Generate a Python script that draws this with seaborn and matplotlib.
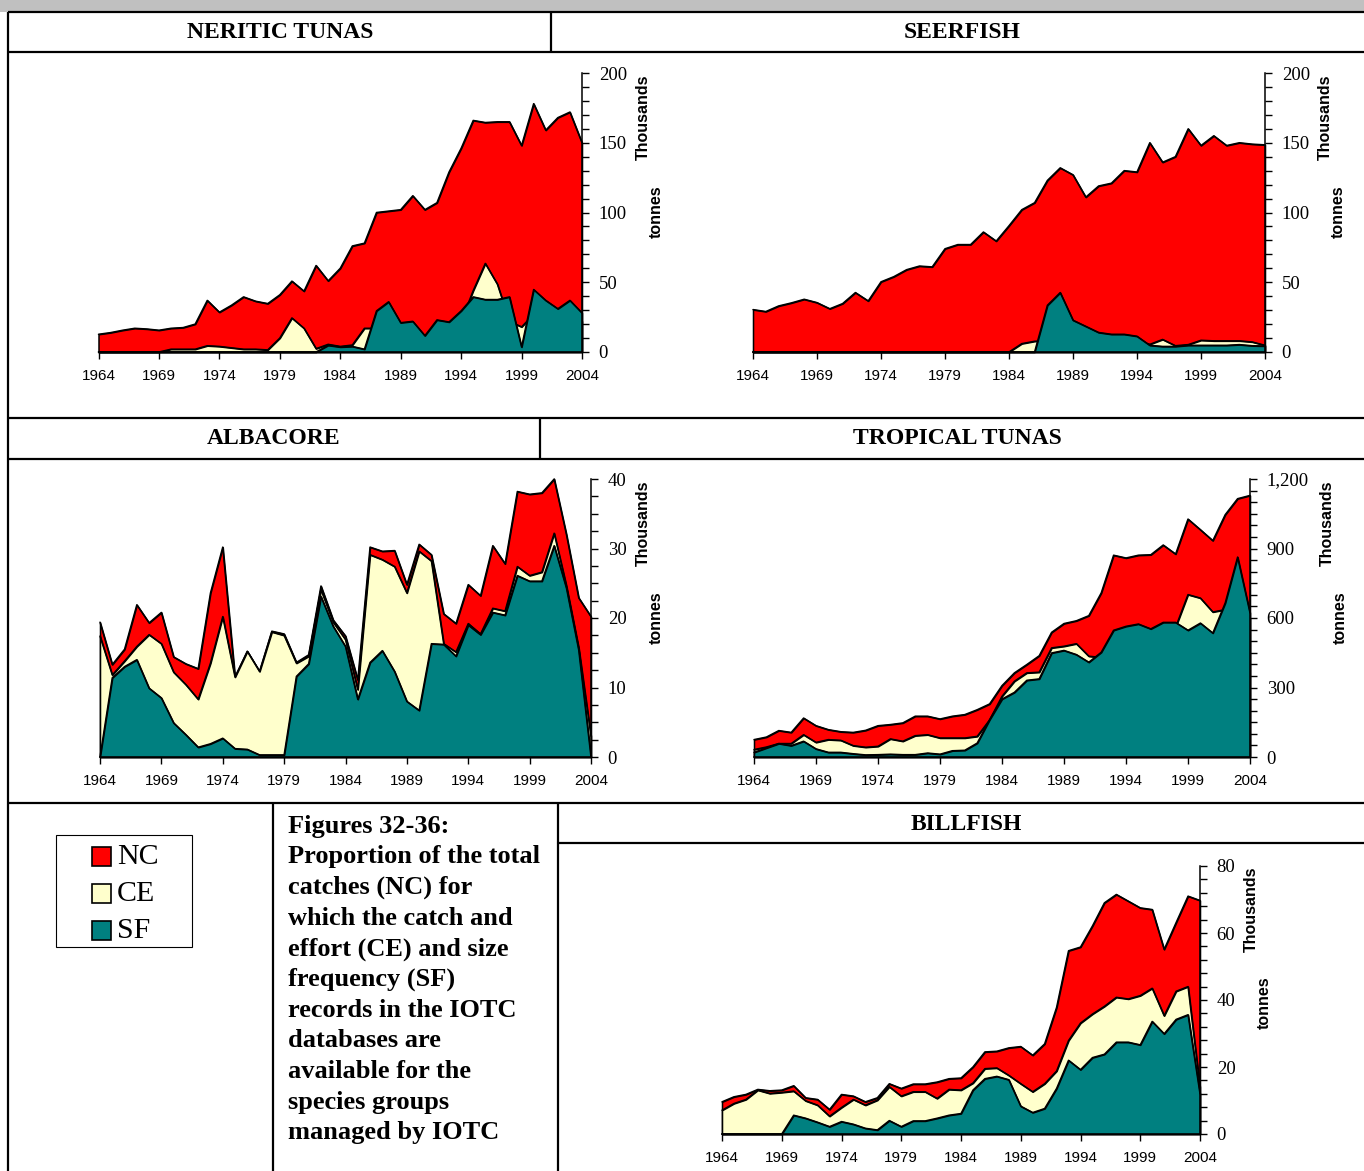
import pandas as pd
import seaborn as sns
import matplotlib.pyplot as plt
from matplotlib.patches import Rectangle

years = list(range(1964, 2005))

# catches, thousand tonnes (NC = total, CE = catch & effort, SF = size frequency)
neritic_nc = [12.7, 13.9, 15.6, 17, 16.5, 15.6, 17, 17.5, 20, 37,
              28.5, 33.5, 39.5, 36.4, 34.7, 41, 50.8, 43.6, 62, 51,
              60, 76, 78, 100, 101, 102, 112, 102, 107, 129,
              146, 166, 164.5, 165, 165, 148, 178, 159, 168, 172, 150]
neritic_ce = [0, 0, 0, 0, 0, 0, 2, 2, 2, 4.5,
              4, 3, 2, 2, 1.5, 10, 24.4, 17, 2.4, 5.5,
              4, 5, 17, 17, 18, 15, 15, 10, 15, 15,
              22, 44, 63.5, 48.6, 22, 18, 27, 25, 25, 25, 22]
neritic_sf = [0, 0, 0, 0, 0, 0, 0, 0, 0, 0,
              0, 0, 0, 0, 0, 0, 0, 0, 0, 4.8,
              3.6, 4, 2, 29.5, 36, 21, 22, 11.7, 23, 21.5,
              29.5, 39.5, 37.6, 37.6, 39.5, 3.6, 44.8, 37, 31, 37, 28]

seerfish_nc = [30.4, 29, 33, 35.2, 37.8, 35.4, 31, 34.7, 42.6, 36.6,
               50.3, 54, 59, 61.6, 61, 74, 77, 77, 86, 79.5,
               90.5, 102, 107, 123, 132, 127, 111, 119, 121, 130,
               129, 150, 136, 140, 160, 148, 155, 148, 150, 149, 148.5]
seerfish_ce = [0, 0, 0, 0, 0, 0, 0, 0, 0, 0,
               0, 0, 0, 0, 0, 0, 0, 0, 0, 0,
               0, 6, 7.7, 8, 8, 8, 8, 8, 8, 8,
               8, 5.5, 9, 4.5, 5.3, 8.4, 8, 8, 8, 7.2, 4.8]
seerfish_sf = [0, 0, 0, 0, 0, 0, 0, 0, 0, 0,
               0, 0, 0, 0, 0, 0, 0, 0, 0, 0,
               0, 0, 0, 33.5, 42.6, 22.8, 18.4, 14, 12.7, 12.7,
               11.3, 4.8, 4, 4, 4.8, 4.8, 4.8, 4.8, 5.3, 4.5, 4.3]

albacore_nc = [19.4, 13.3, 15.5, 21.9, 19.3, 20.8, 14.4, 13.4, 12.7, 23.6,
               30.2, 11.5, 15.2, 12.3, 18.1, 17.7, 13.6, 14.7, 24.6, 19.7,
               17.4, 11.1, 30.2, 29.6, 29.7, 24.8, 30.6, 29.1, 20.6, 19.2,
               24.8, 23.2, 30.4, 27.8, 38.2, 37.8, 38, 40, 32, 22.9, 20.2]
albacore_ce = [17.4, 11.8, 13.8, 15.9, 17.6, 16.3, 12.2, 10.4, 8.3, 13.5,
               20.2, 11.5, 15.2, 12.3, 18.0, 17.5, 13.5, 14.5, 24.1, 19.4,
               16.9, 9.7, 29.1, 28.4, 27.4, 23.6, 29.6, 28.2, 16.3, 15.1,
               19.2, 17.7, 21.4, 21.0, 27.4, 26.1, 26.6, 32.2, 24.6, 15.7, 3]
albacore_sf = [0, 11.4, 13.0, 14.0, 9.9, 8.5, 4.9, 3.2, 1.4, 1.9,
               2.7, 1.2, 1.1, 0.3, 0.3, 0.3, 11.6, 13.4, 23.1, 18.8,
               15.9, 8.3, 13.6, 15.3, 12.3, 8.0, 6.7, 16.3, 16.2, 14.5,
               19.0, 17.6, 20.8, 20.4, 26.1, 25.3, 25.3, 30.4, 24.3, 15.4, 0]

tropical_nc = [75, 86, 114, 106, 168, 135, 118, 109, 106, 115,
               135, 140, 147, 176, 176, 164, 176, 183, 204, 229,
               308, 363, 399, 437, 538, 576, 588, 610, 708, 871,
               859, 871, 873, 915, 876, 1027, 981, 934, 1046, 1115, 1129]
tropical_ce = [32, 43, 58, 58, 96, 63, 75, 72, 49, 42,
               46, 78, 68, 92, 96, 82, 82, 82, 89, 160,
               262, 327, 363, 366, 471, 478, 489, 435, 430, 530,
               545, 555, 535, 560, 560, 701, 686, 626, 636, 650, 600]
tropical_sf = [20, 39, 58, 49, 68, 35, 20, 20, 14, 9,
               10, 12, 10, 10, 17, 12, 27, 29, 60, 161,
               250, 279, 331, 337, 449, 460, 442, 409, 452, 547,
               564, 574, 553, 581, 581, 547, 578, 535, 665, 863, 622]

billfish_nc = [9.6, 11.1, 11.8, 13.3, 12.9, 13.1, 14.4, 10.8, 10.3, 7.3,
               11.8, 11.3, 9.6, 10.8, 15.0, 13.6, 14.9, 14.9, 15.5, 16.5,
               16.7, 20.0, 24.5, 24.7, 25.7, 26.1, 23.5, 26.9, 37.8, 54.7,
               55.8, 62.1, 69.0, 71.5, 69.5, 67.5, 67.0, 55.1, 63.1, 71.0, 69.7]
billfish_ce = [7.1, 9.1, 10.3, 13.1, 12.1, 12.4, 12.8, 9.9, 8.6, 5.3,
               7.9, 10.3, 8.6, 10.1, 14.1, 11.3, 12.6, 12.6, 10.6, 13.3,
               13.1, 15.2, 19.5, 19.7, 17.5, 15.0, 12.6, 15.0, 18.8, 27.9,
               33.1, 35.8, 38.1, 40.8, 40.3, 41.3, 43.5, 35.3, 42.6, 44.0, 14]
billfish_sf = [0, 0, 0, 0, 0, 0, 5.6, 4.7, 3.5, 2.2,
               3.7, 2.9, 1.7, 1.2, 4.0, 2.2, 3.9, 3.9, 4.7, 5.6,
               6.1, 13.1, 16.5, 17.2, 16.2, 8.3, 6.4, 7.6, 13.6, 22.0,
               19.2, 22.8, 23.8, 27.4, 27.4, 26.6, 33.6, 29.9, 34.2, 35.6, 12]

series = ['NC', 'CE', 'SF']
colors = {'NC': '#FF0000', 'CE': '#FFFFCC', 'SF': '#008080'}

caption = ["Figures 32-36:", "Proportion of the total", "catches (NC) for",
           "which the catch and", "effort (CE) and size", "frequency (SF)",
           "records in the IOTC", "databases are", "available for the",
           "species groups", "managed by IOTC"]

W, H = 1364, 1171
sns.set_theme(style='white')
plt.rcParams['font.family'] = ['Liberation Sans', 'DejaVu Sans']
plt.rcParams['text.color'] = 'black'

fig = plt.figure(figsize=(W / 100, H / 100), dpi=100)

# page-frame layer in pixel coordinates
bg = fig.add_axes([0, 0, 1, 1])
bg.set_xlim(0, W)
bg.set_ylim(H, 0)
bg.axis('off')


def panel(x0, x1, ybot, ytop, nc, ce, sf, ymax, major, minor, txt_x, comma=False):
    ax = fig.add_axes([x0 / W, 1 - ybot / H, (x1 - x0) / W, (ybot - ytop) / H])
    df = pd.DataFrame({'year': years, 'NC': nc, 'CE': ce, 'SF': sf})
    for i, s in enumerate(series):
        ax.fill_between(df['year'], df[s], 0, facecolor=colors[s], edgecolor='black',
                        linewidth=1.1, zorder=2 + 2 * i, clip_on=False)
        sns.lineplot(data=df, x='year', y=s, ax=ax, color='black', linewidth=1.1,
                     zorder=3 + 2 * i, clip_on=False)
    ax.set_xlim(1964, 2004)
    ax.set_ylim(0, ymax)
    ax.set_xlabel('')
    ax.set_ylabel('')
    ax.patch.set_alpha(0)
    for s in ['left', 'top']:
        ax.spines[s].set_visible(False)
    for s in ['right', 'bottom']:
        ax.spines[s].set_color('black')
        ax.spines[s].set_linewidth(1.1)
        ax.spines[s].set_zorder(10)
    ax.yaxis.tick_right()
    xt = list(range(1964, 2005, 5))
    ax.set_xticks(xt)
    ax.set_xticklabels([str(v) for v in xt], fontsize=11, family='Liberation Sans')
    yt = [major * k for k in range(int(ymax / major) + 1)]
    ax.set_yticks(yt)
    ax.set_yticklabels([f"{v:,}" if comma else f"{v:g}" for v in yt],
                       fontsize=13.5, family='Liberation Serif')
    ax.set_yticks([minor * k for k in range(int(ymax / minor) + 1)], minor=True)
    ax.tick_params(axis='x', which='major', direction='out', length=5, width=1,
                   color='black', labelcolor='black', pad=7.5, bottom=True)
    ax.tick_params(axis='y', which='both', direction='out', length=5, width=1,
                   color='black', labelcolor='black', pad=7, right=True, left=False)
    ax.grid(False)
    ty = ytop + (ybot - ytop) * 0.16
    bg.text(txt_x, ty, 'Thousands', rotation=90, ha='center', va='center',
            fontsize=11.5, fontweight='bold')
    bg.text(txt_x + 13, ty + 94, 'tonnes', rotation=90, ha='center', va='center',
            fontsize=11.5, fontweight='bold')
    return ax


panel(98.5, 582, 352, 73, neritic_nc, neritic_ce, neritic_sf, 200, 50, 10, 643)
panel(753, 1265, 352, 73, seerfish_nc, seerfish_ce, seerfish_sf, 200, 50, 10, 1325)
panel(100, 591, 757, 479, albacore_nc, albacore_ce, albacore_sf, 40, 10, 2.5, 643)
panel(754, 1250, 757, 479, tropical_nc, tropical_ce, tropical_sf, 1200, 300, 50, 1327, comma=True)
panel(722, 1200, 1134, 866, billfish_nc, billfish_ce, billfish_sf, 80, 20, 4, 1251)

# table frame
bg.add_patch(Rectangle((0, 0), W, 12, facecolor='#C0C0C0', edgecolor='none'))
lw = 1.6
for y in [12, 52, 418, 459, 803]:
    bg.plot([8, W], [y, y], color='black', lw=lw, solid_capstyle='butt')
bg.plot([558, W], [843, 843], color='black', lw=lw)
for x, ya, yb in [(8, 12, H), (551, 12, 52), (540, 418, 459), (273, 803, H), (558, 803, H)]:
    bg.plot([x, x], [ya, yb], color='black', lw=lw, solid_capstyle='butt')

head = dict(ha='center', va='center', fontsize=17, fontweight='bold', family='Liberation Serif')
bg.text(280, 32, 'NERITIC TUNAS', **head)
bg.text(962, 32, 'SEERFISH', **head)
bg.text(274, 439, 'ALBACORE', **head)
bg.text(957, 439, 'TROPICAL TUNAS', **head)
bg.text(966, 824, 'BILLFISH', **head)

# legend box
bg.add_patch(Rectangle((56, 835), 136, 112, fill=False, edgecolor='black', lw=0.8))
for i, s in enumerate(series):
    cy = 856 + 37 * i
    bg.add_patch(Rectangle((92, cy - 9.5), 19, 19, facecolor=colors[s], edgecolor='black', lw=1.2))
    bg.text(117, cy + 1, s, ha='left', va='center', fontsize=21.5, family='Liberation Serif')

for i, line in enumerate(caption):
    bg.text(288, 826 + 30.7 * i, line, ha='left', va='center', fontsize=19,
            fontweight='bold', family='Liberation Serif')

fig.savefig('out.png', dpi=100)
